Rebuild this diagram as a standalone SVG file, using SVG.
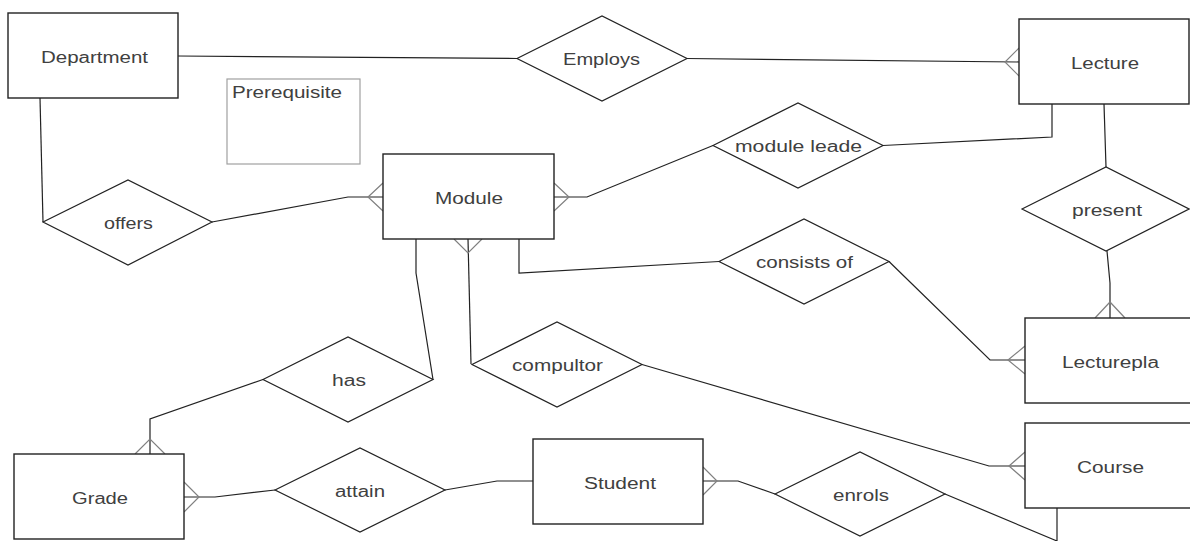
<svg xmlns="http://www.w3.org/2000/svg" width="1190" height="541" viewBox="0 0 1190 541">
<style>
.ent{fill:#fff;stroke:#222;stroke-width:1.4}
.rel{fill:#fff;stroke:#222;stroke-width:1.2}
.note{fill:#fff;stroke:#a0a0a0;stroke-width:1.2}
.ln{fill:none;stroke:#222;stroke-width:1.2}
.cf{fill:none;stroke:#808080;stroke-width:1.2}
text{font-family:"Liberation Sans",Arial,Helvetica,sans-serif;font-size:16px;fill:#404040}
.c{text-anchor:middle}
</style>
<rect width="1190" height="541" fill="#fff"/>
<g id="connectors">
<polyline class="ln" points="178,56 517,58.5"/>
<polyline class="ln" points="687,58.5 1019,62"/>
<polyline class="cf" points="1019,48 1005,62 1019,76"/>
<polyline class="ln" points="40,98 43,222"/>
<polyline class="ln" points="212,222 348,197 383,197"/>
<polyline class="cf" points="383,183 368,197 383,211"/>
<polyline class="ln" points="554,197 587,197 713,145.5"/>
<polyline class="cf" points="554,183 569,197 554,211"/>
<polyline class="ln" points="883,145.5 1052,137 1052,104"/>
<polyline class="ln" points="519,239 519,273 719,261.5"/>
<polyline class="ln" points="889,261.5 990,360 1025,360"/>
<polyline class="cf" points="1025,346 1008,360 1025,374"/>
<polyline class="ln" points="1104,104 1106,167"/>
<polyline class="ln" points="1107,251 1110,283 1110,318"/>
<polyline class="cf" points="1095,318 1110,302 1125,318"/>
<polyline class="ln" points="468,239 471,364"/>
<polyline class="cf" points="454,239 468,253 482,239"/>
<polyline class="ln" points="642,364.5 989,466 1025,466"/>
<polyline class="cf" points="1025,452 1009,466 1025,480"/>
<polyline class="ln" points="416,239 416,273 433,379.5"/>
<polyline class="ln" points="263,379.5 150,419 150,454"/>
<polyline class="cf" points="135,454 150,439 165,454"/>
<polyline class="ln" points="184,497 215,497 275,490"/>
<polyline class="cf" points="184,482 199,497 184,512"/>
<polyline class="ln" points="445,490 497,481 533,481"/>
<polyline class="ln" points="703,481 738,481 775,494"/>
<polyline class="cf" points="703,467 717,481 703,495"/>
<polyline class="ln" points="945,494 1057,541 1057,508"/>
</g>
<g id="department"><rect class="ent" x="8" y="13" width="170" height="85"/><text class="c" x="94.5" y="62.5" textLength="107" lengthAdjust="spacingAndGlyphs">Department</text></g>
<g id="prerequisite"><rect class="note" x="227" y="79" width="133" height="85"/><text x="232" y="98" textLength="110" lengthAdjust="spacingAndGlyphs">Prerequisite</text></g>
<g id="lecture"><rect class="ent" x="1019" y="19" width="170" height="85"/><text class="c" x="1105" y="68.5" textLength="68" lengthAdjust="spacingAndGlyphs">Lecture</text></g>
<g id="module"><rect class="ent" x="383" y="154" width="171" height="85"/><text class="c" x="469" y="203.5" textLength="68" lengthAdjust="spacingAndGlyphs">Module</text></g>
<g id="lecturepla"><rect class="ent" x="1025" y="318" width="170" height="85"/><text class="c" x="1110.5" y="367.5" textLength="97" lengthAdjust="spacingAndGlyphs">Lecturepla</text></g>
<g id="course"><rect class="ent" x="1025" y="423" width="170" height="85"/><text class="c" x="1110.5" y="472.5" textLength="67" lengthAdjust="spacingAndGlyphs">Course</text></g>
<g id="grade"><rect class="ent" x="14" y="454" width="170" height="85"/><text class="c" x="100" y="503.5" textLength="56" lengthAdjust="spacingAndGlyphs">Grade</text></g>
<g id="student"><rect class="ent" x="533" y="439" width="170" height="85"/><text class="c" x="620" y="488.5" textLength="72" lengthAdjust="spacingAndGlyphs">Student</text></g>
<g id="employs"><polygon class="rel" points="517,58.5 602,16 687,58.5 602,101"/><text class="c" x="601.5" y="65" textLength="77" lengthAdjust="spacingAndGlyphs">Employs</text></g>
<g id="offers"><polygon class="rel" points="43,222 128,180 212,222 128,265"/><text class="c" x="128.5" y="228.5" textLength="49" lengthAdjust="spacingAndGlyphs">offers</text></g>
<g id="module-leade"><polygon class="rel" points="713,145.5 798,103 883,145.5 798,188"/><text class="c" x="798.5" y="152" textLength="127" lengthAdjust="spacingAndGlyphs">module leade</text></g>
<g id="consists-of"><polygon class="rel" points="719,261.5 804,219 889,261.5 804,304"/><text class="c" x="804.5" y="268" textLength="97" lengthAdjust="spacingAndGlyphs">consists of</text></g>
<g id="present"><polygon class="rel" points="1022,209 1106,167 1189,209 1106,251"/><text class="c" x="1107" y="215.5" textLength="70" lengthAdjust="spacingAndGlyphs">present</text></g>
<g id="compultor"><polygon class="rel" points="472,364.5 557,322 642,364.5 557,407"/><text class="c" x="557.5" y="371" textLength="91" lengthAdjust="spacingAndGlyphs">compultor</text></g>
<g id="has"><polygon class="rel" points="263,379.5 348,337 433,379.5 348,422"/><text class="c" x="349" y="386" textLength="34" lengthAdjust="spacingAndGlyphs">has</text></g>
<g id="attain"><polygon class="rel" points="275,490 360,448 445,490 360,532"/><text class="c" x="360" y="496.5" textLength="50" lengthAdjust="spacingAndGlyphs">attain</text></g>
<g id="enrols"><polygon class="rel" points="775,494 860,452 945,494 860,536"/><text class="c" x="861" y="500.5" textLength="56" lengthAdjust="spacingAndGlyphs">enrols</text></g>
</svg>
